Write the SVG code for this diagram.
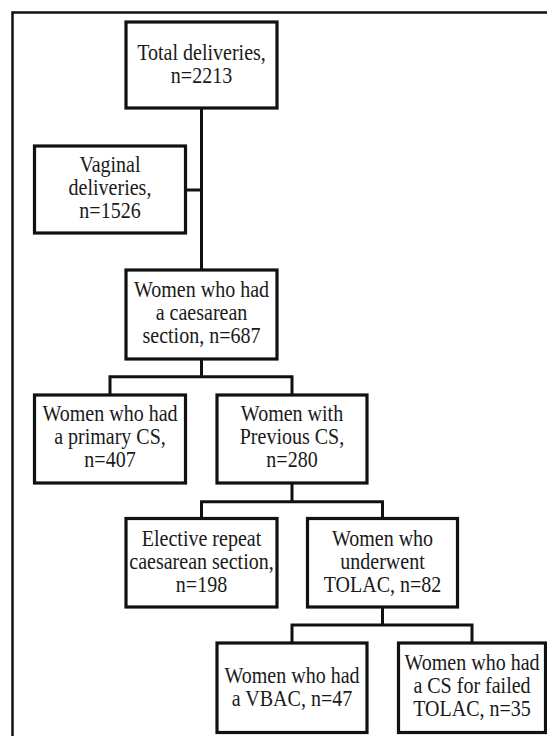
<svg xmlns="http://www.w3.org/2000/svg" width="547" height="736" viewBox="0 0 547 736">
<style>
.frame{fill:none;stroke:#111;stroke-width:2.5}
.box{fill:#fff;stroke:#111;stroke-width:3.2}
.ln{fill:none;stroke:#111;stroke-width:3;stroke-linecap:butt;stroke-linejoin:miter}
.t{font-family:'Liberation Serif','Times New Roman',Times,serif;font-size:22.5px;fill:#1a1a1a;text-anchor:middle}
</style>
<rect x="0" y="0" width="547" height="736" fill="#fff"/>
<path class="frame" d="M12.5,740 V12.5 H550"/>
<g id="connectors">
<path class="ln" d="M201.5,108 V270"/>
<path class="ln" d="M185.5,190 H201.5"/>
<path class="ln" d="M201.5,359 V376.7 M110,395 V376.7 H292 V395"/>
<path class="ln" d="M292,483 V501.7 M201.5,518.5 V501.7 H382.5 V518.5"/>
<path class="ln" d="M382.5,607 V625 M292,643 V625 H472 V643"/>
</g>
<g id="total">
<rect class="box" x="126" y="22" width="151" height="86"/>
<text class="t" transform="translate(201.5 0) scale(0.89 1)"><tspan x="0" y="60">Total deliveries,</tspan><tspan x="0" y="83">n=2213</tspan></text>
</g>
<g id="vaginal">
<rect class="box" x="34.5" y="146" width="151" height="87"/>
<text class="t" transform="translate(110 0) scale(0.89 1)"><tspan x="0" y="172">Vaginal</tspan><tspan x="0" y="195">deliveries,</tspan><tspan x="0" y="218">n=1526</tspan></text>
</g>
<g id="caesarean">
<rect class="box" x="126" y="270" width="151" height="89"/>
<text class="t" transform="translate(201.5 0) scale(0.89 1)"><tspan x="0" y="297">Women who had</tspan><tspan x="0" y="320">a caesarean</tspan><tspan x="0" y="343">section, n=687</tspan></text>
</g>
<g id="primary">
<rect class="box" x="34.5" y="395" width="151" height="88"/>
<text class="t" transform="translate(110 0) scale(0.89 1)"><tspan x="0" y="421.5">Women who had</tspan><tspan x="0" y="444.5">a primary CS,</tspan><tspan x="0" y="467.5">n=407</tspan></text>
</g>
<g id="previous">
<rect class="box" x="217" y="395" width="150" height="88"/>
<text class="t" transform="translate(292 0) scale(0.89 1)"><tspan x="0" y="421.5">Women with</tspan><tspan x="0" y="444.5">Previous CS,</tspan><tspan x="0" y="467.5">n=280</tspan></text>
</g>
<g id="elective">
<rect class="box" x="126" y="518.5" width="151" height="88.5"/>
<text class="t" transform="translate(201.5 0) scale(0.89 1)"><tspan x="0" y="546.5">Elective repeat</tspan><tspan x="0" y="569.5">caesarean section,</tspan><tspan x="0" y="592.5">n=198</tspan></text>
</g>
<g id="tolac">
<rect class="box" x="307.5" y="518.5" width="150" height="88.5"/>
<text class="t" transform="translate(382.5 0) scale(0.89 1)"><tspan x="0" y="546.5">Women who</tspan><tspan x="0" y="569.5">underwent</tspan><tspan x="0" y="592.5">TOLAC,  n=82</tspan></text>
</g>
<g id="vbac">
<rect class="box" x="217" y="643" width="150" height="89.5"/>
<text class="t" transform="translate(292 0) scale(0.89 1)"><tspan x="0" y="683.5">Women who had</tspan><tspan x="0" y="706.5">a VBAC, n=47</tspan></text>
</g>
<g id="failed">
<rect class="box" x="398.5" y="643" width="147" height="89.5"/>
<text class="t" transform="translate(472 0) scale(0.89 1)"><tspan x="0" y="670">Women who had</tspan><tspan x="0" y="693">a CS for failed</tspan><tspan x="0" y="716">TOLAC,  n=35</tspan></text>
</g>
</svg>
